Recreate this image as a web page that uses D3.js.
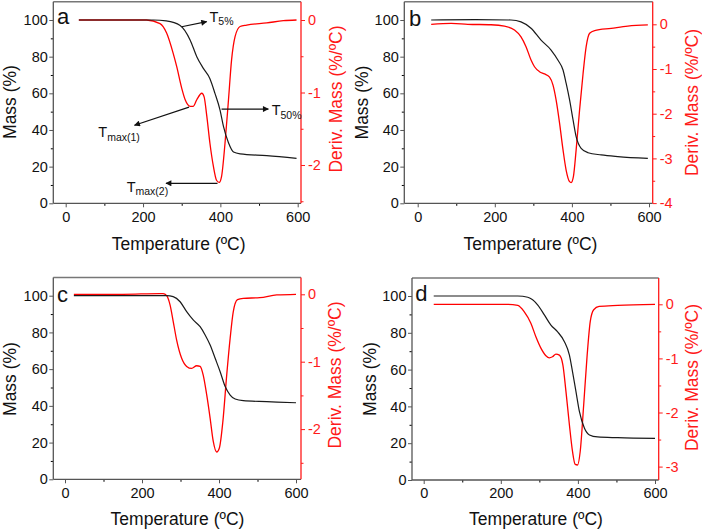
<!DOCTYPE html>
<html><head><meta charset="utf-8">
<script src="https://cdn.jsdelivr.net/npm/d3@7"></script>
<style>
body{margin:0;background:#fff;}
svg{display:block;font-family:"Liberation Sans",Arial,sans-serif;}
</style></head>
<body><svg id="chart" width="702" height="531"></svg>
<script>
// ---------- DATA ----------
const panelLabels = ["a", "b", "c", "d"];
const xTicks = [0, 200, 400, 600];
const xMinorTicks = [100, 300, 500];
const massTicks = [0, 20, 40, 60, 80, 100];
const massMinorTicks = [10, 30, 50, 70, 90];

const aMassT = [34, 150, 227, 260, 296, 322, 339, 356, 373, 386, 399, 408, 421, 434, 451, 520, 597];
const aMass  = [100, 100, 100, 99.5, 97, 89, 80, 73.6, 68, 60, 51, 42, 33, 28, 27, 26, 24.5];
const aDerivT = [34, 150, 209, 244, 261, 278, 287, 300, 309, 322, 330, 339, 352, 358, 365, 373, 382, 390, 397, 403, 412, 421, 429, 438, 451, 468, 520, 563, 597];
const aDeriv  = [0, 0, 0, -0.05, -0.18, -0.46, -0.64, -0.94, -1.10, -1.19, -1.19, -1.10, -1.01, -1.06, -1.33, -1.70, -2.02, -2.21, -2.24, -2.16, -1.70, -1.10, -0.55, -0.23, -0.09, -0.07, -0.04, -0.01, 0];

const bMassT = [35, 150, 242, 268, 294, 320, 346, 364, 377, 385, 394, 403, 411, 424, 442, 476, 519, 597];
const bMass  = [100, 100.2, 100, 99, 95.5, 89, 83.6, 78, 72.7, 65.5, 56.4, 45.5, 36.4, 30, 27.6, 26.4, 25.5, 24.5];
const bDerivT = [35, 87, 130, 190, 225, 251, 268, 281, 294, 303, 316, 329, 342, 351, 359, 368, 377, 385, 394, 398, 404, 411, 420, 429, 437, 446, 459, 502, 545, 597];
const bDeriv  = [0, 0.02, 0, -0.01, -0.04, -0.13, -0.28, -0.5, -0.8, -0.95, -1.06, -1.11, -1.18, -1.36, -1.69, -2.21, -2.81, -3.26, -3.52, -3.54, -3.40, -2.81, -1.91, -1.1, -0.5, -0.2, -0.14, -0.09, -0.04, -0.015];

const cMassT = [23, 150, 264, 281, 299, 316, 333, 351, 364, 377, 390, 403, 416, 429, 442, 463, 524, 600];
const cMass  = [100, 100, 100, 99.5, 96.7, 91.3, 86.8, 83.1, 78.6, 73.1, 65.9, 58.6, 50.5, 45.9, 43.7, 42.8, 42.3, 41.7];
const cDerivT = [23, 150, 245, 255, 264, 273, 281, 290, 303, 316, 329, 342, 351, 359, 368, 377, 385, 394, 401, 410, 420, 429, 437, 448, 463, 506, 550, 600];
const cDeriv  = [0, 0, 0.01, 0.01, -0.02, -0.16, -0.40, -0.68, -0.95, -1.07, -1.10, -1.06, -1.07, -1.20, -1.49, -1.84, -2.18, -2.34, -2.28, -1.89, -1.20, -0.65, -0.26, -0.08, -0.06, -0.05, -0.01, 0];

const dMassT = [26, 150, 244, 270, 296, 313, 330, 347, 365, 378, 386, 395, 404, 417, 430, 451, 503, 600];
const dMass  = [100, 100, 100, 99.3, 95.1, 89.7, 84.2, 80.6, 75.2, 67.9, 58.9, 48, 37.1, 28.1, 24.5, 23.4, 23, 22.6];
const dDerivT = [26, 150, 218, 244, 261, 278, 291, 304, 317, 326, 334, 343, 352, 361, 369, 378, 386, 393, 399, 406, 415, 424, 432, 441, 455, 503, 600];
const dDeriv  = [0, 0, 0, -0.02, -0.14, -0.35, -0.6, -0.81, -0.95, -0.99, -0.97, -0.92, -0.94, -1.12, -1.61, -2.23, -2.72, -2.96, -2.97, -2.72, -1.86, -0.94, -0.32, -0.10, -0.04, -0.02, 0];

const aDerivTicks = [0, -1, -2];
const aDerivMinor = [-0.5, -1.5, -2.5];
const bDerivTicks = [0, -1, -2, -3, -4];
const bDerivMinor = [-0.5, -1.5, -2.5, -3.5];
const cDerivTicks = [0, -1, -2];
const cDerivMinor = [-0.5, -1.5, -2.5];
const dDerivTicks = [0, -1, -2, -3];
const dDerivMinor = [-0.5, -1.5, -2.5];

// annotations of panel a (temperature, mass position)
const annoLabels = ["5%", "50%", "max(1)", "max(2)"];
const annoFrom = [[300, 96.3], [403, 51.4], [319, 52.5], [392.6, 10.9]];
const annoTo   = [[364.6, 99.1], [524, 51.4], [178, 42.6], [259.4, 10.9]];
const annoText = [[371.8, 99.1], [532.7, 48], [84.3, 35.9], [157.7, 6.4]];

const xTitle = "Temperature (\u00BAC)";
const massTitle = "Mass (%)";
const derivTitle = "Deriv. Mass (%/\u00BAC)";

// ---------- LAYOUT ----------
const panels = [
  {label: panelLabels[0], mT: aMassT, m: aMass, dT: aDerivT, d: aDeriv, dTicks: aDerivTicks, dMinor: aDerivMinor,
   left: 53.3, right: 301, top: 1.7, bottom: 203.3, x0: 65.7, x600: 297.7, m100: 20, dm1: 92.5, d0: 20,
   letter: [57, 24], xt: [178.7, 250], yt: [16, 102], dtp: [341.5, 99]},
  {label: panelLabels[1], mT: bMassT, m: bMass, dT: bDerivT, d: bDeriv, dTicks: bDerivTicks, dMinor: bDerivMinor,
   left: 404.3, right: 652.7, top: 1.7, bottom: 203.3, x0: 417.7, x600: 649, m100: 20, dm1: 69, d0: 24.3,
   letter: [409, 26], xt: [530.5, 250], yt: [367.5, 102.5], dtp: [698, 102.5]},
  {label: panelLabels[2], mT: cMassT, m: cMass, dT: cDerivT, d: cDeriv, dTicks: cDerivTicks, dMinor: cDerivMinor,
   left: 53.3, right: 301, top: 277.5, bottom: 479.3, x0: 65, x600: 296, m100: 295.7, dm1: 361.7, d0: 294.3,
   letter: [57, 301.5], xt: [177.5, 525], yt: [16, 379], dtp: [340.5, 375]},
  {label: panelLabels[3], mT: dMassT, m: dMass, dT: dDerivT, d: dDeriv, dTicks: dDerivTicks, dMinor: dDerivMinor,
   left: 412, right: 658.7, top: 278, bottom: 480, x0: 423.7, x600: 655, m100: 296, dm1: 358.4, d0: 304.3,
   letter: [415.3, 301], xt: [536, 525], yt: [376, 379], dtp: [698, 377.5]}
];

const svg = d3.select("#chart");
const RED = "#ff1a1a";
const GRAY = "#555";

svg.append("defs").append("marker")
  .attr("id", "arrow").attr("viewBox", "0 0 10 10").attr("refX", 9).attr("refY", 5)
  .attr("markerWidth", 7).attr("markerHeight", 6).attr("markerUnits", "userSpaceOnUse")
  .attr("orient", "auto")
  .append("path").attr("d", "M0,0 L10,5 L0,10 Z").attr("fill", "#111");

panels.forEach((p, i) => {
  const g = svg.append("g");
  const x = d3.scaleLinear().domain([0, 600]).range([p.x0, p.x600]);
  const ym = d3.scaleLinear().domain([0, 100]).range([p.bottom, p.m100]);
  const yd = d3.scaleLinear().domain([0, -1]).range([p.d0, p.dm1]);

  // frame top line
  g.append("line").attr("x1", p.left).attr("x2", p.right).attr("y1", p.top).attr("y2", p.top)
    .attr("stroke", "#777").attr("stroke-width", 1.6);

  // bottom axis
  const xAxis = g.append("g").attr("transform", `translate(0,${p.bottom})`)
    .call(d3.axisBottom(x).tickValues(xTicks).tickSize(4).tickPadding(4).tickSizeOuter(0));
  xAxis.select(".domain").remove();
  g.append("g").attr("transform", `translate(0,${p.bottom})`)
    .call(d3.axisBottom(x).tickValues(xMinorTicks).tickSize(2.5).tickFormat("").tickSizeOuter(0))
    .select(".domain").remove();
  g.append("line").attr("x1", p.left).attr("x2", p.right).attr("y1", p.bottom).attr("y2", p.bottom)
    .attr("stroke", GRAY).attr("stroke-width", 1.3);

  // left axis
  const yAxis = g.append("g").attr("transform", `translate(${p.left},0)`)
    .call(d3.axisLeft(ym).tickValues(massTicks).tickSize(4).tickPadding(1.5).tickSizeOuter(0));
  yAxis.select(".domain").remove();
  g.append("g").attr("transform", `translate(${p.left},0)`)
    .call(d3.axisLeft(ym).tickValues(massMinorTicks).tickSize(2.5).tickFormat("").tickSizeOuter(0))
    .select(".domain").remove();
  g.append("line").attr("x1", p.left).attr("x2", p.left).attr("y1", p.top).attr("y2", p.bottom)
    .attr("stroke", GRAY).attr("stroke-width", 1.3);

  // right axis
  const rAxis = g.append("g").attr("transform", `translate(${p.right},0)`)
    .call(d3.axisRight(yd).tickValues(p.dTicks).tickSize(4).tickPadding(3).tickSizeOuter(0)
      .tickFormat(v => String(v)));
  rAxis.select(".domain").remove();
  g.append("g").attr("transform", `translate(${p.right},0)`)
    .call(d3.axisRight(yd).tickValues(p.dMinor).tickSize(2.5).tickFormat("").tickSizeOuter(0))
    .attr("class", "rminor").select(".domain").remove();
  g.selectAll(".rminor line").attr("stroke", RED);
  rAxis.selectAll("line").attr("stroke", RED);
  rAxis.selectAll("text").attr("fill", RED);
  g.append("line").attr("x1", p.right).attr("x2", p.right).attr("y1", p.top).attr("y2", p.bottom)
    .attr("stroke", RED).attr("stroke-width", 1.3);

  [xAxis, yAxis, rAxis].forEach(a => a.selectAll("text").attr("font-size", 14.5)
     .attr("font-family", "Liberation Sans, Arial, sans-serif"));
  [xAxis, yAxis].forEach(a => a.selectAll("text").attr("fill", "#111"));
  [xAxis, yAxis].forEach(a => a.selectAll("line").attr("stroke", GRAY));
  g.selectAll(".tick line").attr("stroke-width", 1);

  // curves
  const dLine = d3.line().x((t, j) => x(p.dT[j])).y((t, j) => yd(p.d[j])).curve(d3.curveMonotoneX);
  g.append("path").attr("d", dLine(p.dT)).attr("fill", "none").attr("stroke", "#ff0000").attr("stroke-width", 1.3);
  const mLine = d3.line().x((t, j) => x(p.mT[j])).y((t, j) => ym(p.m[j])).curve(d3.curveMonotoneX);
  g.append("path").attr("d", mLine(p.mT)).attr("fill", "none").attr("stroke", "#1a1a1a").attr("stroke-width", 1.2);

  // titles
  g.append("text").attr("x", p.xt[0]).attr("y", p.xt[1]).attr("text-anchor", "middle")
    .attr("font-size", 17.5).attr("fill", "#111").text(xTitle);
  g.append("text").attr("transform", `translate(${p.yt[0]},${p.yt[1]}) rotate(-90)`).attr("text-anchor", "middle")
    .attr("font-size", 17.5).attr("fill", "#111").text(massTitle);
  g.append("text").attr("transform", `translate(${p.dtp[0]},${p.dtp[1]}) rotate(-90)`).attr("text-anchor", "middle")
    .attr("font-size", 17.5).attr("fill", RED).text(derivTitle);
  g.append("text").attr("x", p.letter[0]).attr("y", p.letter[1]).attr("font-size", 22).attr("fill", "#111").text(p.label);

  if (i === 0) {
    annoLabels.forEach((lab, k) => {
      g.append("line").attr("x1", x(annoFrom[k][0])).attr("y1", ym(annoFrom[k][1]))
        .attr("x2", x(annoTo[k][0])).attr("y2", ym(annoTo[k][1]))
        .attr("stroke", "#111").attr("stroke-width", 1.2).attr("marker-end", "url(#arrow)");
      const t = g.append("text").attr("x", x(annoText[k][0])).attr("y", ym(annoText[k][1]))
        .attr("font-size", 14.5).attr("fill", "#111");
      t.append("tspan").text("T");
      t.append("tspan").attr("font-size", 10.5).attr("dy", 3.5).text(lab);
    });
  }
});
</script></body></html>
